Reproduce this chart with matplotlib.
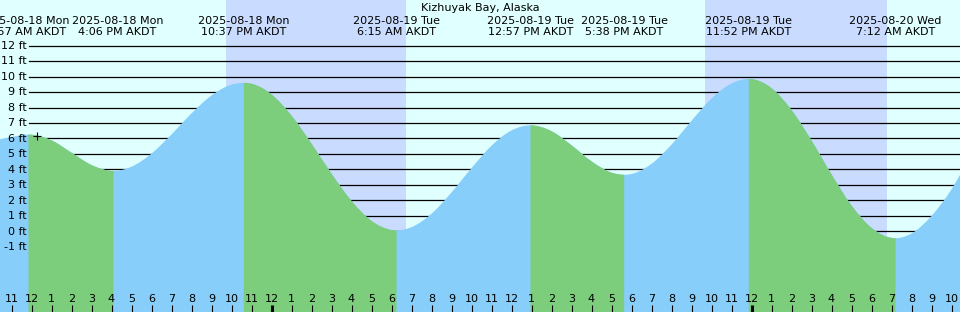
import numpy as np
import matplotlib
matplotlib.use("Agg")
import matplotlib.pyplot as plt
from matplotlib import transforms
from matplotlib.path import Path
from matplotlib.patches import PathPatch

# ---------------- data ----------------
title = "Kizhuyak Bay, Alaska"

# tide height curve (hours since 2025-08-18 00:00 AKDT, feet)
curve_hours = [10.425, 11, 11.85, 13, 14, 15, 16.1, 17, 18, 19, 20, 21, 22, 22.617,
               23, 24, 25, 26, 27, 28, 29, 30, 30.25, 31, 32, 33, 34, 35, 36, 36.95,
               38, 39, 40, 41, 41.633, 42, 43, 44, 45, 46, 47, 47.867, 48, 49, 50,
               51, 52, 53, 54, 55, 55.2, 56, 57, 58, 58.425]
curve_feet = [5.95, 6.1, 6.25, 5.88, 5.08, 4.28, 3.90, 4.17, 5.02, 6.26, 7.62, 8.78, 9.48, 9.60,
              9.54, 8.85, 7.48, 5.67, 3.72, 1.96, 0.67, 0.08, 0.05, 0.26, 1.13, 2.51, 4.08, 5.53, 6.52, 6.85,
              6.47, 5.56, 4.52, 3.79, 3.65, 3.70, 4.36, 5.60, 7.14, 8.58, 9.56, 9.85, 9.84, 9.26, 7.84,
              5.87, 3.68, 1.67, 0.22, -0.43, -0.45, -0.15, 0.99, 2.71, 3.64]

# high / low tide events
event_hours = [11.95, 16.1, 22.617, 30.25, 36.95, 41.633, 47.867, 55.2]
event_dates = ["2025-08-18 Mon", "2025-08-18 Mon", "2025-08-18 Mon", "2025-08-19 Tue",
               "2025-08-19 Tue", "2025-08-19 Tue", "2025-08-19 Tue", "2025-08-20 Wed"]
event_times = ["11:57 AM AKDT", "4:06 PM AKDT", "10:37 PM AKDT", "6:15 AM AKDT",
               "12:57 PM AKDT", "5:38 PM AKDT", "11:52 PM AKDT", "7:12 AM AKDT"]

# night periods (sunset, sunrise) in hours since 2025-08-18 00:00
night_start = [21.725, 45.675]
night_end = [30.725, 54.775]

# current-time marker
marker_hour = 12.25
marker_feet = 6.15

# axis ticks
feet_ticks = list(range(-1, 13))
hour_ticks = list(range(11, 59))

# ---------------- style ----------------
DAY = "#e0ffff"
NIGHT = "#c9dcff"
RISE = "#87cefa"
FALL = "#7ccd7c"
FS = 8
W, H = 960, 312
label_nudge_px = [-7, 4, 0, 0, 0, 0, 0, 0]

fig = plt.figure(figsize=(W / 100, H / 100), dpi=100)
ax = fig.add_axes([0, 0, 1, 1])
ax.set_facecolor(DAY)
px_per_ft = 15.46
ft_top = 12 + 45.7 / px_per_ft
ft_bot = 12 - (H - 45.7) / px_per_ft
ax.set_xlim(10.425, 58.425)
ax.set_ylim(ft_bot, ft_top)
ax.axis("off")
ax.add_patch(plt.Rectangle((0, 0), 1, 1, transform=ax.transAxes, color=DAY, zorder=-1))

for s, e in zip(night_start, night_end):
    ax.axvspan(s, e, color=NIGHT, lw=0, zorder=0)

for f in feet_ticks:
    ax.axhline(f, xmin=29 / W, xmax=1, color="black", lw=0.9, zorder=1)
    ax.annotate(f"{f} ft", xy=(0, f), xycoords=("axes fraction", "data"),
                xytext=(27, -3.3), textcoords="offset pixels",
                ha="right", va="baseline", fontsize=FS, color="black", zorder=5)

# smooth curve through the read points (Hermite segments drawn as Bezier paths)
t = np.array(curve_hours, dtype=float)
h = np.array(curve_feet, dtype=float)
n = len(t)
slopes = np.diff(h) / np.diff(t)
m = np.zeros(n)
m[0], m[-1] = slopes[0], slopes[-1]
for i in range(1, n - 1):
    if slopes[i - 1] * slopes[i] <= 0:
        m[i] = 0.0
    else:
        d0, d1 = t[i] - t[i - 1], t[i + 1] - t[i]
        m[i] = (d0 * slopes[i] + d1 * slopes[i - 1]) / (d0 + d1)

base = ft_bot - 1


def run_patch(a, b, color):
    verts = [(t[a], base), (t[a], h[a])]
    codes = [Path.MOVETO, Path.LINETO]
    for i in range(a, b):
        dx = t[i + 1] - t[i]
        verts += [(t[i] + dx / 3, h[i] + m[i] * dx / 3),
                  (t[i + 1] - dx / 3, h[i + 1] - m[i + 1] * dx / 3),
                  (t[i + 1], h[i + 1])]
        codes += [Path.CURVE4] * 3
    verts += [(t[b], base), (t[a], base)]
    codes += [Path.LINETO, Path.CLOSEPOLY]
    return PathPatch(Path(verts, codes), facecolor=color, edgecolor="none", lw=0, zorder=2)


# rising colour under the whole curve, falling runs on top
ax.add_patch(run_patch(0, n - 1, RISE))
sgn = np.sign(np.diff(h))
start = 0
for i in range(1, len(sgn) + 1):
    if i == len(sgn) or sgn[i] != sgn[start]:
        if sgn[start] < 0:
            ax.add_patch(run_patch(start, i, FALL))
        start = i

ax.plot([marker_hour], [marker_feet], marker="+", ms=6, mew=0.8, color="black", zorder=6)

# header
fig.text(0.5, 1 - 10.7 / H, title, ha="center", va="baseline", fontsize=FS)
for hr, dt, tm, nd in zip(event_hours, event_dates, event_times, label_nudge_px):
    ax.annotate(dt, xy=(hr, H - 24), xycoords=("data", "figure pixels"),
                xytext=(nd, 0), textcoords="offset pixels",
                ha="center", va="baseline", fontsize=FS, zorder=7)
    ax.annotate(tm, xy=(hr, H - 35), xycoords=("data", "figure pixels"),
                xytext=(nd, 0), textcoords="offset pixels",
                ha="center", va="baseline", fontsize=FS, zorder=7)

# hour axis
trans = transforms.blended_transform_factory(ax.transData, ax.transAxes)
for hr in hour_ticks:
    midnight = hr % 24 == 0
    ax.vlines(hr, 0, 7 / H, transform=trans, color="black",
              lw=2.2 if midnight else 0.8, zorder=6)
    lab = hr % 12 if hr % 12 else 12
    ax.annotate(str(lab), xy=(hr, 10.5), xycoords=("data", "figure pixels"),
                ha="center", va="baseline", fontsize=FS, zorder=7)

fig.savefig("out.png", dpi=100)
